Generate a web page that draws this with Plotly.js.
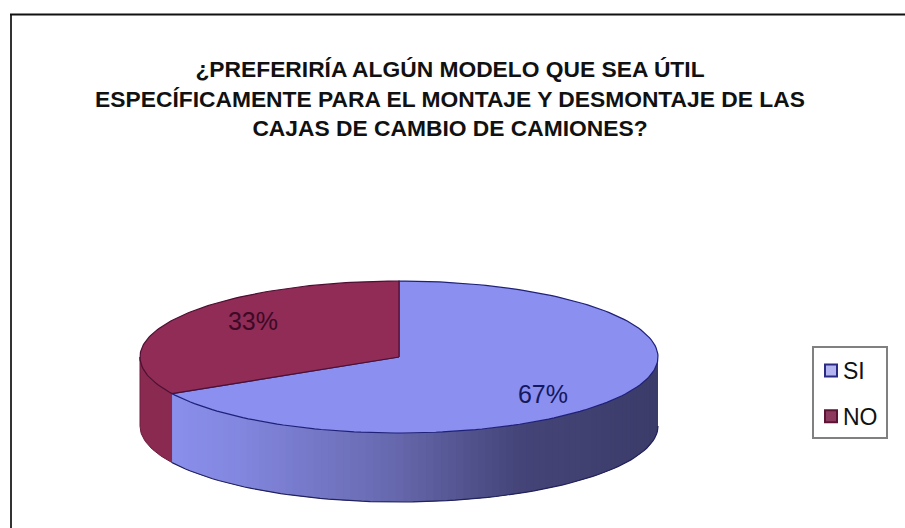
<!DOCTYPE html>
<html><head><meta charset="utf-8">
<script src="https://cdn.plot.ly/plotly-3.0.1.min.js"></script>
<style>html,body{margin:0;padding:0;background:#fff}</style></head>
<body><div id="chart" style="width:905px;height:528px"></div>
<script>
const categories = ['SI', 'NO'];
const seriesValues = [67, 33];
const tickLabels = ['67%', '33%'];
const titleLines = ['¿PREFERIRÍA ALGÚN MODELO QUE SEA ÚTIL', 'ESPECÍFICAMENTE PARA EL MONTAJE Y DESMONTAJE DE LAS', 'CAJAS DE CAMBIO DE CAMIONES?'];

const cx = 399, cy = 357, rx = 259, ry = 76, depth = 69;
const total = seriesValues.reduce((a, b) => a + b, 0);
const siEnd = seriesValues[0] / total * 2 * Math.PI;
// angle measured clockwise from 12 o'clock
const px = a => cx + rx * Math.sin(a);
const py = a => cy - ry * Math.cos(a);
function arc(a0, a1, n) { const o = []; for (let i = 0; i <= n; i++) o.push(a0 + (a1 - a0) * i / n); return o; }
function mix(stops, t) {
  for (let i = 1; i < stops.length; i++) if (t <= stops[i][0]) {
    const [t0, c0] = stops[i - 1], [t1, c1] = stops[i];
    const f = (t - t0) / (t1 - t0);
    return 'rgb(' + c0.map((v, k) => Math.round(v + (c1[k] - v) * f)).join(',') + ')';
  }
  return 'rgb(' + stops[stops.length - 1][1].join(',') + ')';
}
const sideStops = [[0, [138, 143, 236]], [0.15, [130, 134, 222]], [0.45, [104, 106, 176]], [0.72, [68, 68, 120]], [1, [60, 60, 106]]];
const traces = [];
function poly(xs, ys, fill, line, w) {
  traces.push({ type: 'scatter', mode: 'lines', x: xs, y: ys, fill: 'toself', fillcolor: fill,
    line: { color: line, width: w }, showlegend: false, hoverinfo: 'skip' });
}
// blue side wall: overlapping gradient strips, drawn from the right rim to the cut
const sideAngles = arc(Math.PI / 2, siEnd, 90);
for (let i = 0; i < sideAngles.length - 1; i++) {
  const a = sideAngles[i], b = sideAngles[Math.min(i + 3, sideAngles.length - 1)];
  const t = (px(sideAngles[i]) - px(siEnd)) / (px(Math.PI / 2) - px(siEnd));
  const c = mix(sideStops, t);
  const strip = arc(a, b, 4);
  poly(strip.map(px).concat(strip.slice().reverse().map(px)),
       strip.map(py).concat(strip.slice().reverse().map(s => py(s) + depth)), c, c, 0);
}
// red side wall
const redA = arc(siEnd, 3 * Math.PI / 2, 24);
poly(redA.map(px).concat(redA.slice().reverse().map(px)),
     redA.map(py).concat(redA.slice().reverse().map(a => py(a) + depth)), '#8a2a50', '#6a1c3c', 1);
// outlines along the wall bottom
const bottomBlue = arc(Math.PI / 2, siEnd, 80);
traces.push({ type: 'scatter', mode: 'lines', x: bottomBlue.map(px), y: bottomBlue.map(a => py(a) + depth), line: { color: '#23235c', width: 1.2 }, showlegend: false, hoverinfo: 'skip' });
// top faces
const siA = arc(0, siEnd, 160), noA = arc(siEnd, 2 * Math.PI, 100);
poly([cx].concat(siA.map(px), [cx]), [cy].concat(siA.map(py), [cy]), '#8a8ff0', '#1f2178', 1.2);
poly([cx].concat(noA.map(px), [cx]), [cy].concat(noA.map(py), [cy]), '#902c56', '#4e0f33', 1.2);
// percentage labels
traces.push({ type: 'scatter', mode: 'text', x: [543, 253], y: [397, 324], text: tickLabels,
  textfont: { family: 'Liberation Sans, Arial, sans-serif', size: 25, color: ['#14185e', '#3c0a26'] }, showlegend: false, hoverinfo: 'skip' });
// legend entries
const legendFill = ['#b4b4f0', '#8c3a5e'], legendLine = ['#2a2a82', '#5c1434'];
categories.forEach((name, i) => traces.push({ type: 'scatter', mode: 'markers', name, x: [null], y: [null], legendgroup: name,
  marker: { symbol: 'square', size: 12, color: legendFill[i], line: { color: legendLine[i], width: 2 } } }));

const layout = {
  width: 905, height: 528, margin: { l: 0, r: 0, t: 0, b: 0 }, paper_bgcolor: '#fff', plot_bgcolor: '#fff',
  xaxis: { range: [0, 905], visible: false, fixedrange: true },
  yaxis: { range: [528, 0], visible: false, fixedrange: true },
  title: { text: titleLines.join('<br>'), x: 450 / 905, xanchor: 'center', y: 1 - 77 / 528, yanchor: 'top',
    font: { family: 'Liberation Sans, Arial, sans-serif', size: 22.8, color: '#111', weight: 700 } },
  showlegend: true,
  legend: { x: 811 / 905, y: 1 - 349 / 528, xanchor: 'left', yanchor: 'top', bgcolor: 'rgba(0,0,0,0)', borderwidth: 0,
    tracegroupgap: 13, traceorder: 'grouped', font: { family: 'Liberation Sans, Arial, sans-serif', size: 23, color: '#111' } },
  shapes: [
    { type: 'line', xref: 'x', yref: 'y', x0: 11, x1: 11, y0: 14, y1: 528, line: { color: '#333', width: 2 } },
    { type: 'line', xref: 'x', yref: 'y', x0: 10, x1: 905, y0: 14.5, y1: 14.5, line: { color: '#111', width: 2 } },
    { type: 'rect', xref: 'x', yref: 'y', x0: 813, x1: 887, y0: 347, y1: 438, line: { color: '#808080', width: 2 } }
  ],
  hovermode: false
};
Plotly.newPlot('chart', traces, layout, { displayModeBar: false, staticPlot: true }).then(() => {
  document.querySelectorAll('.legendtext').forEach(t => t.setAttribute('x', 32));
});
</script></body></html>
